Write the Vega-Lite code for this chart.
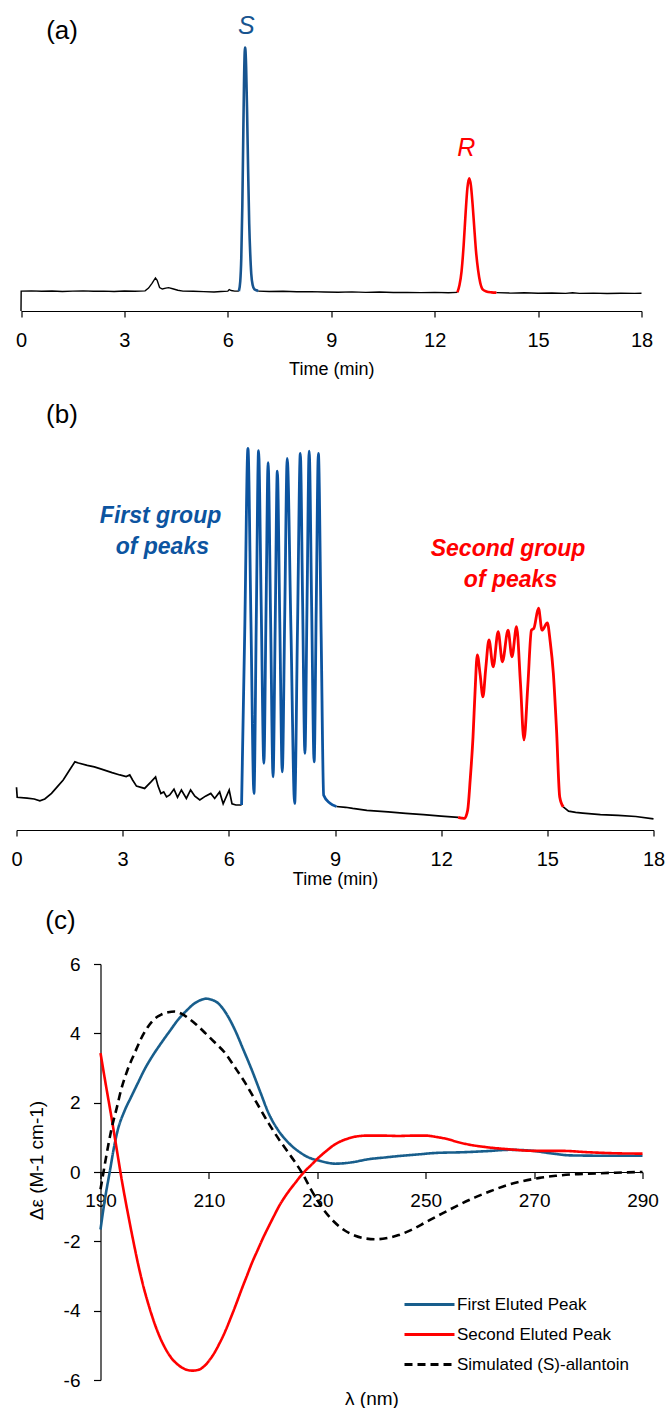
{
  "$schema": "https://vega.github.io/schema/vega-lite/v6.json",
  "padding": {"left": 10.5, "top": 10, "right": 0, "bottom": 0},
  "bounds": "flush",
  "spacing": 134,
  "resolve": {"scale": {"color": "independent", "strokeDash": "independent"}, "legend": {"color": "independent", "strokeDash": "independent"}},
  "config": {
    "view": {"stroke": null},
    "font": "Liberation Sans",
    "axis": {"grid": false, "domainColor": "black", "domainWidth": 1.2, "tickColor": "black", "tickWidth": 1.2, "labelColor": "black", "titleColor": "black", "titleFontWeight": "normal", "labelFlush": false, "labelOverlap": false, "labelBound": false}
  },
  "datasets": {
    "a_black": [
      {"t": 0, "v": 0, "seg": "k1"}, {"t": 0.005, "v": 6.6, "seg": "k1"}, {"t": 0.3, "v": 6.7, "seg": "k1"}, {"t": 0.6, "v": 6.55, "seg": "k1"}, {"t": 0.9, "v": 6.65, "seg": "k1"}, {"t": 1.2, "v": 6.5, "seg": "k1"}, {"t": 1.5, "v": 6.6, "seg": "k1"}, {"t": 1.8, "v": 6.7, "seg": "k1"}, {"t": 2.1, "v": 6.55, "seg": "k1"}, {"t": 2.4, "v": 6.6, "seg": "k1"}, {"t": 2.7, "v": 6.5, "seg": "k1"}, {"t": 3.0, "v": 6.62, "seg": "k1"}, {"t": 3.3, "v": 6.55, "seg": "k1"}, {"t": 3.6, "v": 6.7, "seg": "k1"}, {"t": 3.7, "v": 7.6, "seg": "k1"}, {"t": 3.8, "v": 9.2, "seg": "k1"}, {"t": 3.9, "v": 11.0, "seg": "k1"}, {"t": 3.95, "v": 10.2, "seg": "k1"}, {"t": 4.02, "v": 7.8, "seg": "k1"}, {"t": 4.1, "v": 7.3, "seg": "k1"}, {"t": 4.2, "v": 7.6, "seg": "k1"}, {"t": 4.28, "v": 7.75, "seg": "k1"}, {"t": 4.4, "v": 7.4, "seg": "k1"}, {"t": 4.55, "v": 6.9, "seg": "k1"}, {"t": 4.7, "v": 6.6, "seg": "k1"}, {"t": 5.0, "v": 6.55, "seg": "k1"}, {"t": 5.3, "v": 6.45, "seg": "k1"}, {"t": 5.6, "v": 6.3, "seg": "k1"}, {"t": 5.8, "v": 6.5, "seg": "k1"}, {"t": 6.0, "v": 6.6, "seg": "k1"}, {"t": 6.04, "v": 7.1, "seg": "k1"}, {"t": 6.1, "v": 6.8, "seg": "k1"}, {"t": 6.2, "v": 6.6, "seg": "k1"}, {"t": 6.32, "v": 6.6, "seg": "k1"},
      {"t": 6.88, "v": 6.6, "seg": "k2"}, {"t": 7.2, "v": 6.5, "seg": "k2"}, {"t": 7.6, "v": 6.55, "seg": "k2"}, {"t": 8.0, "v": 6.4, "seg": "k2"}, {"t": 8.4, "v": 6.45, "seg": "k2"}, {"t": 8.8, "v": 6.3, "seg": "k2"}, {"t": 9.2, "v": 6.25, "seg": "k2"}, {"t": 9.6, "v": 6.35, "seg": "k2"}, {"t": 10.0, "v": 6.2, "seg": "k2"}, {"t": 10.4, "v": 6.3, "seg": "k2"}, {"t": 10.8, "v": 6.15, "seg": "k2"}, {"t": 11.2, "v": 6.2, "seg": "k2"}, {"t": 11.6, "v": 6.1, "seg": "k2"}, {"t": 12.0, "v": 6.2, "seg": "k2"}, {"t": 12.4, "v": 6.05, "seg": "k2"}, {"t": 12.66, "v": 6.2, "seg": "k2"},
      {"t": 13.79, "v": 6.1, "seg": "k3"}, {"t": 14.2, "v": 5.95, "seg": "k3"}, {"t": 14.6, "v": 6.05, "seg": "k3"}, {"t": 15.0, "v": 5.9, "seg": "k3"}, {"t": 15.4, "v": 6.0, "seg": "k3"}, {"t": 15.8, "v": 5.85, "seg": "k3"}, {"t": 16.0, "v": 6.05, "seg": "k3"}, {"t": 16.2, "v": 5.85, "seg": "k3"}, {"t": 16.6, "v": 5.95, "seg": "k3"}, {"t": 17.0, "v": 5.8, "seg": "k3"}, {"t": 17.4, "v": 5.9, "seg": "k3"}, {"t": 17.8, "v": 5.85, "seg": "k3"}, {"t": 18.0, "v": 5.9, "seg": "k3"}
    ],
    "a_peaks": [
      {"t": 6.32, "v": 6.6, "peak": "S"}, {"t": 6.36, "v": 9.8, "peak": "S"}, {"t": 6.39, "v": 17.5, "peak": "S"}, {"t": 6.42, "v": 34.7, "peak": "S"}, {"t": 6.45, "v": 60.1, "peak": "S"}, {"t": 6.47, "v": 76.3, "peak": "S"}, {"t": 6.49, "v": 86.2, "peak": "S"}, {"t": 6.5, "v": 87.5, "peak": "S"}, {"t": 6.51, "v": 86.8, "peak": "S"}, {"t": 6.53, "v": 81.3, "peak": "S"}, {"t": 6.56, "v": 65.3, "peak": "S"}, {"t": 6.59, "v": 46.0, "peak": "S"}, {"t": 6.62, "v": 29.1, "peak": "S"}, {"t": 6.65, "v": 19.0, "peak": "S"}, {"t": 6.68, "v": 12.3, "peak": "S"}, {"t": 6.72, "v": 8.6, "peak": "S"}, {"t": 6.77, "v": 7.2, "peak": "S"}, {"t": 6.83, "v": 6.9, "peak": "S"}, {"t": 6.88, "v": 6.6, "peak": "S"},
      {"t": 12.66, "v": 6.2, "peak": "R"}, {"t": 12.72, "v": 8.6, "peak": "R"}, {"t": 12.78, "v": 13.2, "peak": "R"}, {"t": 12.84, "v": 21.7, "peak": "R"}, {"t": 12.9, "v": 33.0, "peak": "R"}, {"t": 12.95, "v": 40.9, "peak": "R"}, {"t": 13.0, "v": 44.1, "peak": "R"}, {"t": 13.05, "v": 41.8, "peak": "R"}, {"t": 13.1, "v": 35.5, "peak": "R"}, {"t": 13.15, "v": 27.5, "peak": "R"}, {"t": 13.2, "v": 19.8, "peak": "R"}, {"t": 13.26, "v": 13.6, "peak": "R"}, {"t": 13.32, "v": 9.5, "peak": "R"}, {"t": 13.4, "v": 7.1, "peak": "R"}, {"t": 13.5, "v": 6.5, "peak": "R"}, {"t": 13.65, "v": 6.2, "peak": "R"}, {"t": 13.79, "v": 6.1, "peak": "R"}
    ],
    "a_lab": [{"t": 1.19, "v": 93.0, "txt": "(a)"}],
    "a_S": [{"t": 6.54, "v": 94.7, "txt": "S"}],
    "a_R": [{"t": 12.92, "v": 54.2, "txt": "R"}],
    "b_black": [
      {"t": 0, "v": 11.1, "seg": "k1"}, {"t": 0.02, "v": 8.5, "seg": "k1"}, {"t": 0.3, "v": 8.3, "seg": "k1"}, {"t": 0.5, "v": 8.05, "seg": "k1"}, {"t": 0.66, "v": 7.6, "seg": "k1"}, {"t": 0.8, "v": 8.05, "seg": "k1"}, {"t": 0.99, "v": 9.5, "seg": "k1"}, {"t": 1.15, "v": 11.2, "seg": "k1"}, {"t": 1.32, "v": 13.0, "seg": "k1"}, {"t": 1.5, "v": 15.6, "seg": "k1"}, {"t": 1.65, "v": 17.7, "seg": "k1"}, {"t": 1.75, "v": 17.4, "seg": "k1"}, {"t": 2.0, "v": 16.8, "seg": "k1"}, {"t": 2.2, "v": 16.4, "seg": "k1"}, {"t": 2.4, "v": 15.8, "seg": "k1"}, {"t": 2.7, "v": 14.9, "seg": "k1"}, {"t": 2.92, "v": 14.3, "seg": "k1"}, {"t": 3.1, "v": 13.9, "seg": "k1"}, {"t": 3.2, "v": 14.3, "seg": "k1"}, {"t": 3.28, "v": 13.0, "seg": "k1"}, {"t": 3.39, "v": 11.4, "seg": "k1"}, {"t": 3.62, "v": 10.8, "seg": "k1"}, {"t": 3.8, "v": 12.5, "seg": "k1"}, {"t": 3.93, "v": 13.8, "seg": "k1"}, {"t": 4.0, "v": 11.4, "seg": "k1"}, {"t": 4.08, "v": 9.5, "seg": "k1"}, {"t": 4.16, "v": 9.9, "seg": "k1"}, {"t": 4.24, "v": 8.6, "seg": "k1"}, {"t": 4.33, "v": 9.1, "seg": "k1"}, {"t": 4.45, "v": 10.6, "seg": "k1"}, {"t": 4.55, "v": 8.5, "seg": "k1"}, {"t": 4.66, "v": 10.4, "seg": "k1"}, {"t": 4.8, "v": 8.2, "seg": "k1"}, {"t": 4.92, "v": 10.4, "seg": "k1"}, {"t": 5.04, "v": 8.8, "seg": "k1"}, {"t": 5.18, "v": 7.8, "seg": "k1"}, {"t": 5.34, "v": 8.8, "seg": "k1"}, {"t": 5.49, "v": 9.5, "seg": "k1"}, {"t": 5.6, "v": 8.2, "seg": "k1"}, {"t": 5.74, "v": 9.9, "seg": "k1"}, {"t": 5.84, "v": 6.8, "seg": "k1"}, {"t": 6.01, "v": 10.4, "seg": "k1"}, {"t": 6.09, "v": 6.8, "seg": "k1"}, {"t": 6.2, "v": 6.5, "seg": "k1"}, {"t": 6.36, "v": 6.5, "seg": "k1"},
      {"t": 9.04, "v": 6.1, "seg": "k2"}, {"t": 9.3, "v": 5.9, "seg": "k2"}, {"t": 9.5, "v": 5.6, "seg": "k2"}, {"t": 9.9, "v": 5.1, "seg": "k2"}, {"t": 10.2, "v": 4.9, "seg": "k2"}, {"t": 10.5, "v": 4.7, "seg": "k2"}, {"t": 11.0, "v": 4.3, "seg": "k2"}, {"t": 11.5, "v": 4.0, "seg": "k2"}, {"t": 12.0, "v": 3.6, "seg": "k2"}, {"t": 12.48, "v": 3.3, "seg": "k2"},
      {"t": 15.45, "v": 6.0, "seg": "k3"}, {"t": 15.6, "v": 4.9, "seg": "k3"}, {"t": 15.8, "v": 4.6, "seg": "k3"}, {"t": 16.0, "v": 4.4, "seg": "k3"}, {"t": 16.5, "v": 4.0, "seg": "k3"}, {"t": 17.0, "v": 3.8, "seg": "k3"}, {"t": 17.5, "v": 3.5, "seg": "k3"}, {"t": 18.0, "v": 2.9, "seg": "k3"}
    ],
    "b_peaks": [
      {"t": 6.36, "v": 6.5, "grp": "first"}, {"t": 6.45, "v": 52, "grp": "first"}, {"t": 6.54, "v": 99.1, "grp": "first"}, {"t": 6.625, "v": 54, "grp": "first"}, {"t": 6.71, "v": 9.5, "grp": "first"}, {"t": 6.775, "v": 54, "grp": "first"}, {"t": 6.84, "v": 98.5, "grp": "first"}, {"t": 6.915, "v": 58, "grp": "first"}, {"t": 6.99, "v": 17.3, "grp": "first"}, {"t": 7.05, "v": 56, "grp": "first"}, {"t": 7.11, "v": 95.4, "grp": "first"}, {"t": 7.18, "v": 55, "grp": "first"}, {"t": 7.25, "v": 13.8, "grp": "first"}, {"t": 7.31, "v": 53, "grp": "first"}, {"t": 7.37, "v": 93.2, "grp": "first"}, {"t": 7.44, "v": 54, "grp": "first"}, {"t": 7.51, "v": 15.1, "grp": "first"}, {"t": 7.58, "v": 56, "grp": "first"}, {"t": 7.65, "v": 96.5, "grp": "first"}, {"t": 7.755, "v": 52, "grp": "first"}, {"t": 7.86, "v": 6.9, "grp": "first"}, {"t": 7.94, "v": 52, "grp": "first"}, {"t": 8.02, "v": 97.8, "grp": "first"}, {"t": 8.085, "v": 59, "grp": "first"}, {"t": 8.15, "v": 19.9, "grp": "first"}, {"t": 8.21, "v": 59, "grp": "first"}, {"t": 8.27, "v": 98.4, "grp": "first"}, {"t": 8.34, "v": 58, "grp": "first"}, {"t": 8.41, "v": 17.7, "grp": "first"}, {"t": 8.47, "v": 58, "grp": "first"}, {"t": 8.53, "v": 97.8, "grp": "first"}, {"t": 8.61, "v": 50, "grp": "first"}, {"t": 8.68, "v": 9.0, "grp": "first"}, {"t": 8.85, "v": 7.0, "grp": "first"}, {"t": 9.04, "v": 6.1, "grp": "first"},
      {"t": 12.48, "v": 3.3, "grp": "second"}, {"t": 12.58, "v": 3.1, "grp": "second"}, {"t": 12.66, "v": 3.0, "grp": "second"}, {"t": 12.75, "v": 5.2, "grp": "second"}, {"t": 12.82, "v": 13.0, "grp": "second"}, {"t": 12.9, "v": 24.2, "grp": "second"}, {"t": 12.96, "v": 36.4, "grp": "second"}, {"t": 13.02, "v": 45.5, "grp": "second"}, {"t": 13.1, "v": 40.5, "grp": "second"}, {"t": 13.18, "v": 34.6, "grp": "second"}, {"t": 13.26, "v": 42.0, "grp": "second"}, {"t": 13.35, "v": 49.4, "grp": "second"}, {"t": 13.47, "v": 42.4, "grp": "second"}, {"t": 13.61, "v": 51.5, "grp": "second"}, {"t": 13.73, "v": 43.7, "grp": "second"}, {"t": 13.89, "v": 51.9, "grp": "second"}, {"t": 14.0, "v": 45.0, "grp": "second"}, {"t": 14.13, "v": 52.8, "grp": "second"}, {"t": 14.24, "v": 38.2, "grp": "second"}, {"t": 14.34, "v": 23.4, "grp": "second"}, {"t": 14.45, "v": 37.7, "grp": "second"}, {"t": 14.55, "v": 51.9, "grp": "second"}, {"t": 14.62, "v": 52.4, "grp": "second"}, {"t": 14.75, "v": 57.6, "grp": "second"}, {"t": 14.85, "v": 51.9, "grp": "second"}, {"t": 15.0, "v": 53.8, "grp": "second"}, {"t": 15.08, "v": 49.0, "grp": "second"}, {"t": 15.17, "v": 40.7, "grp": "second"}, {"t": 15.26, "v": 26.0, "grp": "second"}, {"t": 15.35, "v": 8.6, "grp": "second"}, {"t": 15.45, "v": 6.0, "grp": "second"}
    ],
    "b_lab": [{"t": 1.286, "v": 107.7, "txt": "(b)"}],
    "b_first": [{"t": 4.07, "v": 79.7, "txt": "First group"}, {"t": 4.12, "v": 71.7, "txt": "of peaks"}],
    "b_second": [{"t": 13.89, "v": 71.2, "txt": "Second group"}, {"t": 13.96, "v": 63.2, "txt": "of peaks"}],
    "c_lines": [
      {"wl": 190, "de": -1.66, "s": "First Eluted Peak"}, {"wl": 190.8, "de": -0.8, "s": "First Eluted Peak"}, {"wl": 191.7, "de": 0.0, "s": "First Eluted Peak"}, {"wl": 192.5, "de": 0.72, "s": "First Eluted Peak"}, {"wl": 193.2, "de": 1.22, "s": "First Eluted Peak"}, {"wl": 194.4, "de": 1.75, "s": "First Eluted Peak"}, {"wl": 195.7, "de": 2.18, "s": "First Eluted Peak"}, {"wl": 197, "de": 2.6, "s": "First Eluted Peak"}, {"wl": 198.1, "de": 2.95, "s": "First Eluted Peak"}, {"wl": 199.6, "de": 3.35, "s": "First Eluted Peak"}, {"wl": 201.2, "de": 3.72, "s": "First Eluted Peak"}, {"wl": 202.8, "de": 4.07, "s": "First Eluted Peak"}, {"wl": 204.3, "de": 4.39, "s": "First Eluted Peak"}, {"wl": 205.9, "de": 4.66, "s": "First Eluted Peak"}, {"wl": 207.4, "de": 4.87, "s": "First Eluted Peak"}, {"wl": 208.5, "de": 4.96, "s": "First Eluted Peak"}, {"wl": 209.5, "de": 5.0, "s": "First Eluted Peak"}, {"wl": 210.5, "de": 4.97, "s": "First Eluted Peak"}, {"wl": 211.7, "de": 4.87, "s": "First Eluted Peak"}, {"wl": 213.2, "de": 4.57, "s": "First Eluted Peak"}, {"wl": 214.8, "de": 4.1, "s": "First Eluted Peak"}, {"wl": 216.3, "de": 3.55, "s": "First Eluted Peak"}, {"wl": 217.9, "de": 2.95, "s": "First Eluted Peak"}, {"wl": 219.5, "de": 2.3, "s": "First Eluted Peak"}, {"wl": 221, "de": 1.7, "s": "First Eluted Peak"}, {"wl": 222.8, "de": 1.2, "s": "First Eluted Peak"}, {"wl": 224.7, "de": 0.84, "s": "First Eluted Peak"}, {"wl": 226.5, "de": 0.6, "s": "First Eluted Peak"}, {"wl": 228.4, "de": 0.42, "s": "First Eluted Peak"}, {"wl": 230.3, "de": 0.33, "s": "First Eluted Peak"}, {"wl": 231.8, "de": 0.27, "s": "First Eluted Peak"}, {"wl": 233.3, "de": 0.24, "s": "First Eluted Peak"}, {"wl": 234.8, "de": 0.25, "s": "First Eluted Peak"}, {"wl": 236.4, "de": 0.28, "s": "First Eluted Peak"}, {"wl": 239.5, "de": 0.37, "s": "First Eluted Peak"}, {"wl": 242.5, "de": 0.42, "s": "First Eluted Peak"}, {"wl": 245.7, "de": 0.47, "s": "First Eluted Peak"}, {"wl": 248.8, "de": 0.51, "s": "First Eluted Peak"}, {"wl": 251.9, "de": 0.55, "s": "First Eluted Peak"}, {"wl": 256.8, "de": 0.57, "s": "First Eluted Peak"}, {"wl": 261.1, "de": 0.6, "s": "First Eluted Peak"}, {"wl": 265.4, "de": 0.64, "s": "First Eluted Peak"}, {"wl": 269.1, "de": 0.62, "s": "First Eluted Peak"}, {"wl": 273.5, "de": 0.53, "s": "First Eluted Peak"}, {"wl": 276.6, "de": 0.48, "s": "First Eluted Peak"}, {"wl": 282.7, "de": 0.47, "s": "First Eluted Peak"}, {"wl": 290, "de": 0.47, "s": "First Eluted Peak"},
      {"wl": 190, "de": 3.43, "s": "Second Eluted Peak"}, {"wl": 191, "de": 2.5, "s": "Second Eluted Peak"}, {"wl": 192, "de": 1.6, "s": "Second Eluted Peak"}, {"wl": 193, "de": 0.65, "s": "Second Eluted Peak"}, {"wl": 194, "de": -0.3, "s": "Second Eluted Peak"}, {"wl": 195, "de": -1.15, "s": "Second Eluted Peak"}, {"wl": 196, "de": -1.95, "s": "Second Eluted Peak"}, {"wl": 197, "de": -2.7, "s": "Second Eluted Peak"}, {"wl": 198, "de": -3.35, "s": "Second Eluted Peak"}, {"wl": 199, "de": -3.9, "s": "Second Eluted Peak"}, {"wl": 200, "de": -4.38, "s": "Second Eluted Peak"}, {"wl": 201, "de": -4.78, "s": "Second Eluted Peak"}, {"wl": 202, "de": -5.1, "s": "Second Eluted Peak"}, {"wl": 203, "de": -5.35, "s": "Second Eluted Peak"}, {"wl": 204, "de": -5.52, "s": "Second Eluted Peak"}, {"wl": 205, "de": -5.64, "s": "Second Eluted Peak"}, {"wl": 206, "de": -5.71, "s": "Second Eluted Peak"}, {"wl": 207, "de": -5.73, "s": "Second Eluted Peak"}, {"wl": 208, "de": -5.71, "s": "Second Eluted Peak"}, {"wl": 209, "de": -5.62, "s": "Second Eluted Peak"}, {"wl": 210, "de": -5.45, "s": "Second Eluted Peak"}, {"wl": 211, "de": -5.22, "s": "Second Eluted Peak"}, {"wl": 212, "de": -4.93, "s": "Second Eluted Peak"}, {"wl": 213, "de": -4.6, "s": "Second Eluted Peak"}, {"wl": 214, "de": -4.22, "s": "Second Eluted Peak"}, {"wl": 215, "de": -3.82, "s": "Second Eluted Peak"}, {"wl": 216, "de": -3.4, "s": "Second Eluted Peak"}, {"wl": 217, "de": -3.0, "s": "Second Eluted Peak"}, {"wl": 218, "de": -2.6, "s": "Second Eluted Peak"}, {"wl": 219, "de": -2.25, "s": "Second Eluted Peak"}, {"wl": 220, "de": -1.9, "s": "Second Eluted Peak"}, {"wl": 221, "de": -1.58, "s": "Second Eluted Peak"}, {"wl": 222, "de": -1.27, "s": "Second Eluted Peak"}, {"wl": 223, "de": -0.97, "s": "Second Eluted Peak"}, {"wl": 224, "de": -0.72, "s": "Second Eluted Peak"}, {"wl": 225, "de": -0.5, "s": "Second Eluted Peak"}, {"wl": 226, "de": -0.3, "s": "Second Eluted Peak"}, {"wl": 227, "de": -0.1, "s": "Second Eluted Peak"}, {"wl": 228, "de": 0.07, "s": "Second Eluted Peak"}, {"wl": 229, "de": 0.22, "s": "Second Eluted Peak"}, {"wl": 230, "de": 0.38, "s": "Second Eluted Peak"}, {"wl": 231, "de": 0.52, "s": "Second Eluted Peak"}, {"wl": 232, "de": 0.65, "s": "Second Eluted Peak"}, {"wl": 233, "de": 0.77, "s": "Second Eluted Peak"}, {"wl": 234, "de": 0.86, "s": "Second Eluted Peak"}, {"wl": 235, "de": 0.93, "s": "Second Eluted Peak"}, {"wl": 236, "de": 0.98, "s": "Second Eluted Peak"}, {"wl": 237, "de": 1.02, "s": "Second Eluted Peak"}, {"wl": 238, "de": 1.04, "s": "Second Eluted Peak"}, {"wl": 239, "de": 1.05, "s": "Second Eluted Peak"}, {"wl": 242, "de": 1.05, "s": "Second Eluted Peak"}, {"wl": 245, "de": 1.04, "s": "Second Eluted Peak"}, {"wl": 248, "de": 1.05, "s": "Second Eluted Peak"}, {"wl": 250, "de": 1.05, "s": "Second Eluted Peak"}, {"wl": 252, "de": 1.01, "s": "Second Eluted Peak"}, {"wl": 254, "de": 0.95, "s": "Second Eluted Peak"}, {"wl": 256, "de": 0.86, "s": "Second Eluted Peak"}, {"wl": 258, "de": 0.79, "s": "Second Eluted Peak"}, {"wl": 261, "de": 0.72, "s": "Second Eluted Peak"}, {"wl": 265, "de": 0.66, "s": "Second Eluted Peak"}, {"wl": 270, "de": 0.61, "s": "Second Eluted Peak"}, {"wl": 275, "de": 0.61, "s": "Second Eluted Peak"}, {"wl": 280, "de": 0.57, "s": "Second Eluted Peak"}, {"wl": 285, "de": 0.54, "s": "Second Eluted Peak"}, {"wl": 290, "de": 0.53, "s": "Second Eluted Peak"},
      {"wl": 190, "de": -0.5, "s": "Simulated (S)-allantoin"}, {"wl": 190.5, "de": -0.05, "s": "Simulated (S)-allantoin"}, {"wl": 191, "de": 0.4, "s": "Simulated (S)-allantoin"}, {"wl": 192, "de": 1.22, "s": "Simulated (S)-allantoin"}, {"wl": 193, "de": 1.85, "s": "Simulated (S)-allantoin"}, {"wl": 193.8, "de": 2.37, "s": "Simulated (S)-allantoin"}, {"wl": 195, "de": 2.95, "s": "Simulated (S)-allantoin"}, {"wl": 196.3, "de": 3.43, "s": "Simulated (S)-allantoin"}, {"wl": 197.5, "de": 3.85, "s": "Simulated (S)-allantoin"}, {"wl": 198.8, "de": 4.2, "s": "Simulated (S)-allantoin"}, {"wl": 200, "de": 4.42, "s": "Simulated (S)-allantoin"}, {"wl": 201.2, "de": 4.54, "s": "Simulated (S)-allantoin"}, {"wl": 202.5, "de": 4.61, "s": "Simulated (S)-allantoin"}, {"wl": 203.7, "de": 4.63, "s": "Simulated (S)-allantoin"}, {"wl": 205, "de": 4.56, "s": "Simulated (S)-allantoin"}, {"wl": 206.2, "de": 4.44, "s": "Simulated (S)-allantoin"}, {"wl": 207.7, "de": 4.25, "s": "Simulated (S)-allantoin"}, {"wl": 209.3, "de": 4.01, "s": "Simulated (S)-allantoin"}, {"wl": 211, "de": 3.75, "s": "Simulated (S)-allantoin"}, {"wl": 213, "de": 3.43, "s": "Simulated (S)-allantoin"}, {"wl": 214.8, "de": 3.02, "s": "Simulated (S)-allantoin"}, {"wl": 216.7, "de": 2.57, "s": "Simulated (S)-allantoin"}, {"wl": 218.8, "de": 2.0, "s": "Simulated (S)-allantoin"}, {"wl": 221, "de": 1.41, "s": "Simulated (S)-allantoin"}, {"wl": 222.8, "de": 0.97, "s": "Simulated (S)-allantoin"}, {"wl": 224.7, "de": 0.55, "s": "Simulated (S)-allantoin"}, {"wl": 227.2, "de": -0.03, "s": "Simulated (S)-allantoin"}, {"wl": 229, "de": -0.55, "s": "Simulated (S)-allantoin"}, {"wl": 231, "de": -1.05, "s": "Simulated (S)-allantoin"}, {"wl": 233, "de": -1.42, "s": "Simulated (S)-allantoin"}, {"wl": 235, "de": -1.68, "s": "Simulated (S)-allantoin"}, {"wl": 237, "de": -1.84, "s": "Simulated (S)-allantoin"}, {"wl": 239, "de": -1.92, "s": "Simulated (S)-allantoin"}, {"wl": 241, "de": -1.94, "s": "Simulated (S)-allantoin"}, {"wl": 243, "de": -1.9, "s": "Simulated (S)-allantoin"}, {"wl": 245, "de": -1.82, "s": "Simulated (S)-allantoin"}, {"wl": 247.5, "de": -1.66, "s": "Simulated (S)-allantoin"}, {"wl": 250, "de": -1.45, "s": "Simulated (S)-allantoin"}, {"wl": 253, "de": -1.2, "s": "Simulated (S)-allantoin"}, {"wl": 256, "de": -0.96, "s": "Simulated (S)-allantoin"}, {"wl": 259, "de": -0.74, "s": "Simulated (S)-allantoin"}, {"wl": 262, "de": -0.55, "s": "Simulated (S)-allantoin"}, {"wl": 265, "de": -0.38, "s": "Simulated (S)-allantoin"}, {"wl": 268, "de": -0.26, "s": "Simulated (S)-allantoin"}, {"wl": 271, "de": -0.17, "s": "Simulated (S)-allantoin"}, {"wl": 274, "de": -0.11, "s": "Simulated (S)-allantoin"}, {"wl": 277, "de": -0.07, "s": "Simulated (S)-allantoin"}, {"wl": 280, "de": -0.05, "s": "Simulated (S)-allantoin"}, {"wl": 285, "de": -0.02, "s": "Simulated (S)-allantoin"}, {"wl": 290, "de": 0.0, "s": "Simulated (S)-allantoin"}
    ],
    "c_lab": [{"wl": 182.62, "de": 7.25, "txt": "(c)"}]
  },
  "vconcat": [
    {
      "width": 637,
      "height": 301,
      "layer": [
        {
          "data": {"name": "a_black"},
          "mark": {"type": "line", "color": "black", "strokeWidth": 1.4, "interpolate": "linear"},
          "encoding": {
            "x": {"field": "t", "type": "quantitative", "scale": {"domain": [0, 18], "range": [4.5, 625]},
                  "axis": {"values": [0, 3, 6, 9, 12, 15, 18], "title": "Time (min)", "tickSize": 6, "labelPadding": 13, "labelFont": "Liberation Sans Narrow, Liberation Sans", "labelFontSize": 20, "titleFont": "Liberation Sans", "titleFontSize": 18, "titleY": 58.5, "titleBaseline": "middle"}},
            "y": {"field": "v", "type": "quantitative", "scale": {"domain": [0, 100]}, "axis": null},
            "detail": {"field": "seg", "type": "nominal"}
          }
        },
        {
          "data": {"name": "a_peaks"},
          "mark": {"type": "line", "strokeWidth": 2.6, "interpolate": "monotone"},
          "encoding": {
            "x": {"field": "t", "type": "quantitative", "scale": {"domain": [0, 18], "range": [4.5, 625]}},
            "y": {"field": "v", "type": "quantitative", "scale": {"domain": [0, 100]}},
            "color": {"field": "peak", "type": "nominal", "scale": {"domain": ["S", "R"], "range": ["#17548f", "#ff0000"]}, "legend": null}
          }
        },
        {
          "data": {"name": "a_lab"},
          "mark": {"type": "text", "fontSize": 26, "color": "black", "align": "center", "baseline": "middle"},
          "encoding": {"x": {"field": "t", "type": "quantitative"}, "y": {"field": "v", "type": "quantitative"}, "text": {"field": "txt"}}
        },
        {
          "data": {"name": "a_S"},
          "mark": {"type": "text", "fontSize": 25, "fontStyle": "italic", "color": "#17548f", "align": "center", "baseline": "middle"},
          "encoding": {"x": {"field": "t", "type": "quantitative"}, "y": {"field": "v", "type": "quantitative"}, "text": {"field": "txt"}}
        },
        {
          "data": {"name": "a_R"},
          "mark": {"type": "text", "fontSize": 25, "fontStyle": "italic", "color": "#ff0000", "align": "center", "baseline": "middle"},
          "encoding": {"x": {"field": "t", "type": "quantitative"}, "y": {"field": "v", "type": "quantitative"}, "text": {"field": "txt"}}
        }
      ]
    },
    {
      "width": 637,
      "height": 385,
      "layer": [
        {
          "data": {"name": "b_black"},
          "mark": {"type": "line", "color": "black", "strokeWidth": 1.7, "interpolate": "linear"},
          "encoding": {
            "x": {"field": "t", "type": "quantitative", "scale": {"domain": [0, 18]},
                  "axis": {"values": [0, 3, 6, 9, 12, 15, 18], "title": "Time (min)", "tickSize": 6, "labelPadding": 13, "labelFont": "Liberation Sans Narrow, Liberation Sans", "labelFontSize": 20, "titleFont": "Liberation Sans", "titleFontSize": 18, "titleY": 49, "titleBaseline": "middle"}},
            "y": {"field": "v", "type": "quantitative", "scale": {"domain": [0, 100]}, "axis": null},
            "detail": {"field": "seg", "type": "nominal"}
          }
        },
        {
          "data": {"name": "b_peaks"},
          "mark": {"type": "line", "strokeWidth": 2.8, "interpolate": "monotone"},
          "encoding": {
            "x": {"field": "t", "type": "quantitative", "scale": {"domain": [0, 18]}},
            "y": {"field": "v", "type": "quantitative", "scale": {"domain": [0, 100]}},
            "color": {"field": "grp", "type": "nominal", "scale": {"domain": ["first", "second"], "range": ["#0c54a0", "#ff0000"]}, "legend": null}
          }
        },
        {
          "data": {"name": "b_lab"},
          "mark": {"type": "text", "fontSize": 26, "color": "black", "align": "center", "baseline": "middle"},
          "encoding": {"x": {"field": "t", "type": "quantitative"}, "y": {"field": "v", "type": "quantitative"}, "text": {"field": "txt"}}
        },
        {
          "data": {"name": "b_first"},
          "mark": {"type": "text", "fontSize": 23, "fontStyle": "italic", "fontWeight": "bold", "color": "#0c54a0", "align": "center", "baseline": "alphabetic"},
          "encoding": {"x": {"field": "t", "type": "quantitative"}, "y": {"field": "v", "type": "quantitative"}, "text": {"field": "txt"}}
        },
        {
          "data": {"name": "b_second"},
          "mark": {"type": "text", "fontSize": 23, "fontStyle": "italic", "fontWeight": "bold", "color": "#ff0000", "align": "center", "baseline": "alphabetic"},
          "encoding": {"x": {"field": "t", "type": "quantitative"}, "y": {"field": "v", "type": "quantitative"}, "text": {"field": "txt"}}
        }
      ]
    },
    {
      "width": 637,
      "height": 416,
      "layer": [
        {
          "data": {"name": "c_lines"},
          "mark": {"type": "line", "strokeWidth": 2.6, "interpolate": "monotone"},
          "encoding": {
            "x": {"field": "wl", "type": "quantitative", "scale": {"domain": [190, 290], "range": [84, 626]},
                  "axis": {"values": [190, 210, 230, 250, 270, 290], "title": "λ (nm)", "offset": -208, "tickSize": 6.5, "labelPadding": 13, "labelFontSize": 19, "titleFontSize": 19, "titleX": 355, "titleY": 226, "titleBaseline": "middle"}},
            "y": {"field": "de", "type": "quantitative", "scale": {"domain": [-6, 6]},
                  "axis": {"values": [-6, -4, -2, 0, 2, 4, 6], "labelExpr": "'' + datum.value", "title": "Δε (M-1 cm-1)", "offset": -84, "tickSize": 7, "labelPadding": 13.5, "labelFontSize": 19, "titleFontSize": 19, "titleX": -64, "titleY": 196, "titleBaseline": "middle", "titleAlign": "center"}},
            "color": {"field": "s", "type": "nominal",
                      "scale": {"domain": ["First Eluted Peak", "Second Eluted Peak", "Simulated (S)-allantoin"], "range": ["#185e8c", "#ff0000", "#000000"]},
                      "legend": {"title": null, "orient": "none", "legendX": 416.5, "legendY": 329, "symbolType": "M-4,0L1,0", "symbolSize": 400, "symbolStrokeWidth": 3, "labelFontSize": 17, "labelColor": "black", "labelOffset": 1, "labelLimit": 400, "rowPadding": 10, "padding": 0}},
            "strokeDash": {"field": "s", "type": "nominal",
                      "scale": {"domain": ["First Eluted Peak", "Second Eluted Peak", "Simulated (S)-allantoin"], "range": [[1, 0], [1, 0], [8, 5]]},
                      "legend": {"title": null, "orient": "none", "legendX": 416.5, "legendY": 329, "symbolType": "M-4,0L1,0", "symbolSize": 400, "symbolStrokeWidth": 3, "labelFontSize": 17, "labelColor": "black", "labelOffset": 1, "labelLimit": 400, "rowPadding": 10, "padding": 0}}
          }
        },
        {
          "data": {"name": "c_lab"},
          "mark": {"type": "text", "fontSize": 26, "color": "black", "align": "center", "baseline": "middle"},
          "encoding": {"x": {"field": "wl", "type": "quantitative"}, "y": {"field": "de", "type": "quantitative"}, "text": {"field": "txt"}}
        }
      ]
    }
  ]
}
